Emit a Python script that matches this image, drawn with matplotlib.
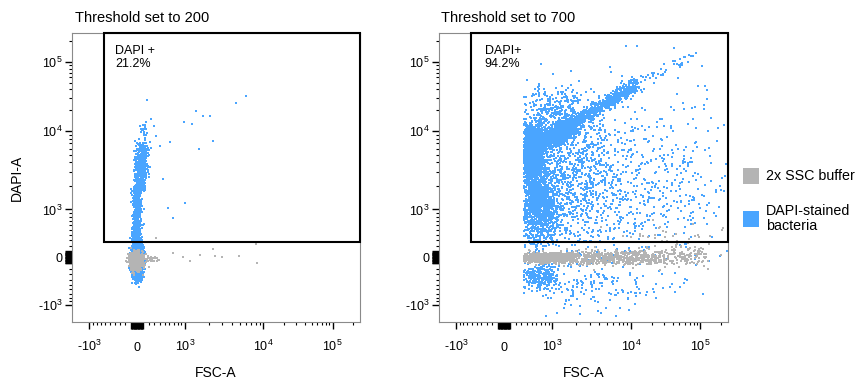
import numpy as np
import matplotlib
matplotlib.use("Agg")
import matplotlib.pyplot as plt
from matplotlib.patches import Rectangle
from matplotlib.ticker import FixedLocator, NullFormatter

plt.rcParams.update({
    "font.family": ["Liberation Sans", "DejaVu Sans"],
    "mathtext.fontset": "custom",
    "mathtext.rm": "Liberation Sans",
    "mathtext.it": "Liberation Sans:italic",
    "mathtext.bf": "Liberation Sans:bold",
})

# ---------------------------------------------------------------- data
panel_titles = ["Threshold set to 200", "Threshold set to 700"]
gate_names = ["DAPI +", "DAPI+"]
gate_pct = [21.2, 94.2]
gate_x_min = [-610, -610]
gate_y_min = [255, 255]
fsc_min = [None, 340]

legend_labels = ["2x SSC buffer", "DAPI-stained\nbacteria"]

tick_values = [-1e3, 0, 1e3, 1e4, 1e5]
tick_labels = ["-$10^{3}$", "0", "$10^{3}$", "$10^{4}$", "$10^{5}$"]

# event populations: (x start, y start, x end, y end, spread x, spread y, events)
# spreads are given in decades of the biexponential display
left_bacteria = [
    (0, -35, 0, -35, 0.035, 0.12, 4000),
    (0, 177, 0, 1880, 0.035, 0.06, 450),
    (35, 1880, 95, 6350, 0.045, 0.07, 500),
    (117, 8630, 117, 8630, 0.05, 0.10, 30),
]
left_buffer = [
    (-12, -70, -12, -70, 0.04, 0.055, 1800),
    (58, -47, 364, -23, 0.04, 0.03, 40),
]
right_bacteria = [
    (530, 5190, 530, 5190, 0.07, 0.17, 3000),
    (575, 6350, 1877, 11940, 0.06, 0.06, 1500),
    (1250, 9550, 11940, 47500, 0.05, 0.05, 700),
    (11940, 47500, 94800, 134000, 0.07, 0.07, 40),
    (1020, 18900, 1020, 18900, 0.30, 0.18, 400),
    (652, 1130, 652, 1130, 0.14, 0.28, 1200),
    (1877, 2820, 1877, 2820, 0.40, 0.50, 1000),
    (15000, 1877, 15000, 1877, 0.60, 0.70, 500),
    (685, -338, 685, -338, 0.13, 0.09, 300),
    (2820, -575, 2820, -575, 0.50, 0.20, 150),
]
right_buffer = [
    (364, -12, 1877, -12, 0.05, 0.035, 900),
    (1877, -12, 23800, 0, 0.10, 0.055, 500),
    (23800, 0, 119000, 35, 0.10, 0.08, 150),
    (37800, 364, 37800, 364, 0.40, 0.12, 40),
]

# individually resolved outlying events, threshold 200
left_bacteria_x = [178, 236, 295, 339, 402, 609, 969, 1220, 1400, 1700,
                   2070, 2290, 1500, 4450, 5960, 467, 573, 685, 998]
left_bacteria_y = [28000, 14750, 11800, 8630, 6440, 7250, 13600, 12700, 19400, 16400,
                   16400, 7470, 5960, 25100, 32700, 2430, 1040, 774, 1220]
left_buffer_x = [1550, 2290, 2400, 2930, 4900, 8140, 8400, 942, 1155, 685, 326]
left_buffer_y = [42, 138, 25, -3, 25, 225, -105, -3, -60, 80, 344]

# ---------------------------------------------------------------- style
BUFFER_COLOR = "#b4b4b4"
BACT_COLOR = "#4aa5ff"
SPINE_COLOR = "#8a8a8a"
X_LIM = (-1675, 250000)
Y_LIM = (-1650, 262144)
DOT = 0.6

# biexponential display: near-linear around zero, logarithmic above 10^3
LIN_W = 700.0
U_1E3 = 0.69
DEC_3 = 1.133
ASINH_1E3 = np.arcsinh(1000.0 / LIN_W)


def biex_fwd(x):
    x = np.asarray(x, dtype=float)
    a = np.abs(x)
    with np.errstate(all="ignore"):
        lin = U_1E3 * np.arcsinh(np.minimum(a, 1000.0) / LIN_W) / ASINH_1E3
        mid = U_1E3 + DEC_3 * (np.log10(np.clip(a, 1000.0, 1e4)) - 3.0)
        high = U_1E3 + DEC_3 + (np.log10(np.maximum(a, 1e4)) - 4.0)
        u = np.where(a <= 1000.0, lin, np.where(a <= 1e4, mid, high))
    return np.sign(x) * u


def biex_inv(u):
    u = np.asarray(u, dtype=float)
    a = np.abs(u)
    with np.errstate(all="ignore"):
        lin = LIN_W * np.sinh(np.minimum(a, U_1E3) * ASINH_1E3 / U_1E3)
        mid = 10.0 ** (3.0 + (np.clip(a, U_1E3, U_1E3 + DEC_3) - U_1E3) / DEC_3)
        high = 10.0 ** (4.0 + np.clip(a - U_1E3 - DEC_3, 0.0, 6.0))
        v = np.where(a <= U_1E3, lin, np.where(a <= U_1E3 + DEC_3, mid, high))
    return np.sign(u) * v


rng = np.random.default_rng(11)


def sample_events(pops, x_min=None):
    xs, ys = [], []
    for x0, y0, x1, y1, sx, sy, n in pops:
        t = rng.random(n)
        ux = biex_fwd(x0) + t * (biex_fwd(x1) - biex_fwd(x0)) + rng.normal(0, sx, n)
        uy = biex_fwd(y0) + t * (biex_fwd(y1) - biex_fwd(y0)) + rng.normal(0, sy, n)
        xs.append(biex_inv(ux))
        ys.append(biex_inv(uy))
    x = np.concatenate(xs)
    y = np.concatenate(ys)
    if x_min is not None:
        keep = x >= x_min
        x, y = x[keep], y[keep]
    return x, y


panels = [
    (left_bacteria, left_buffer, left_bacteria_x, left_bacteria_y, left_buffer_x, left_buffer_y),
    (right_bacteria, right_buffer, [], [], [], []),
]

fig = plt.figure(figsize=(8.57, 3.8), dpi=100)
axes = [fig.add_axes([71.7 / 857, 58 / 380, 288.5 / 857, 289 / 380]),
        fig.add_axes([438.5 / 857, 58 / 380, 289.5 / 857, 289 / 380])]

near_zero = [s * m * 10 for s in (-1, 1) for m in range(1, 11)]
minor_ticks = ([s * m * 100 for s in (-1, 1) for m in range(2, 10)]
               + [m * 1000 for m in range(2, 10)]
               + [m * 10000 for m in range(2, 10)] + [200000])
major_ticks = tick_values + near_zero
major_labels = tick_labels + [""] * len(near_zero)
label_dx = [7.7, 9.6]

for i, ax in enumerate(axes):
    bact_pops, buf_pops, bx, by, gx, gy = panels[i]
    ax.set_xscale("function", functions=(biex_fwd, biex_inv))
    ax.set_yscale("function", functions=(biex_fwd, biex_inv))

    x_b, y_b = sample_events(bact_pops, fsc_min[i])
    x_g, y_g = sample_events(buf_pops, fsc_min[i])
    x_b = np.concatenate([x_b, bx])
    y_b = np.concatenate([y_b, by])
    x_g = np.concatenate([x_g, gx])
    y_g = np.concatenate([y_g, gy])

    ax.scatter(x_b, y_b, s=DOT, marker="s", c=BACT_COLOR, linewidths=0)
    ax.scatter(x_g, y_g, s=DOT, marker="s", c=BUFFER_COLOR, linewidths=0)

    ax.set_xlim(*X_LIM)
    ax.set_ylim(*Y_LIM)

    # gate
    ax.add_patch(Rectangle((gate_x_min[i], gate_y_min[i]),
                           X_LIM[1] - gate_x_min[i], Y_LIM[1] - gate_y_min[i],
                           fill=False, ec="black", lw=1.5, clip_on=False, zorder=5))
    ax.annotate(f"{gate_names[i]}\n{gate_pct[i]:.1f}%",
                xy=(gate_x_min[i], Y_LIM[1]), xycoords="data",
                xytext=(label_dx[i], -9.0), textcoords="offset points",
                ha="left", va="top", fontsize=9, linespacing=1.1)

    # axes styling
    for sp in ax.spines.values():
        sp.set_color(SPINE_COLOR)
        sp.set_linewidth(0.8)

    ax.set_xticks(major_ticks, labels=major_labels, va="baseline")
    ax.set_yticks(major_ticks, labels=major_labels)
    ax.xaxis.set_minor_locator(FixedLocator(minor_ticks))
    ax.yaxis.set_minor_locator(FixedLocator(minor_ticks))
    ax.xaxis.set_minor_formatter(NullFormatter())
    ax.yaxis.set_minor_formatter(NullFormatter())
    ax.tick_params(which="major", length=4.8, width=1.0, color="black",
                   labelsize=9, direction="out")
    ax.tick_params(which="minor", length=2.4, width=0.8, color="black",
                   direction="out")
    ax.tick_params(axis="x", which="major", pad=16)
    ax.tick_params(axis="y", which="major", pad=1.5)

    ax.set_xlabel("FSC-A", fontsize=10)
    ax.xaxis.set_label_coords(0.5, -0.152)

    ax.text(0.01, 1.039, panel_titles[i], transform=ax.transAxes,
            ha="left", va="baseline", fontsize=10.5)

axes[0].set_ylabel("DAPI-A", fontsize=10)
axes[0].yaxis.set_label_coords(-0.165, 0.5)

# legend
legend_colors = [BUFFER_COLOR, BACT_COLOR]
legend_y = [175.5, 218.5]
for col, lab, yc in zip(legend_colors, legend_labels, legend_y):
    fig.add_artist(Rectangle((742.7 / 857, (380 - yc - 8) / 380), 16 / 857, 16 / 380,
                             transform=fig.transFigure, color=col, lw=0))
    fig.text(766 / 857, (380 - yc) / 380, lab, ha="left", va="center",
             fontsize=10.3, linespacing=1.15)

fig.savefig("out.png", dpi=100)
